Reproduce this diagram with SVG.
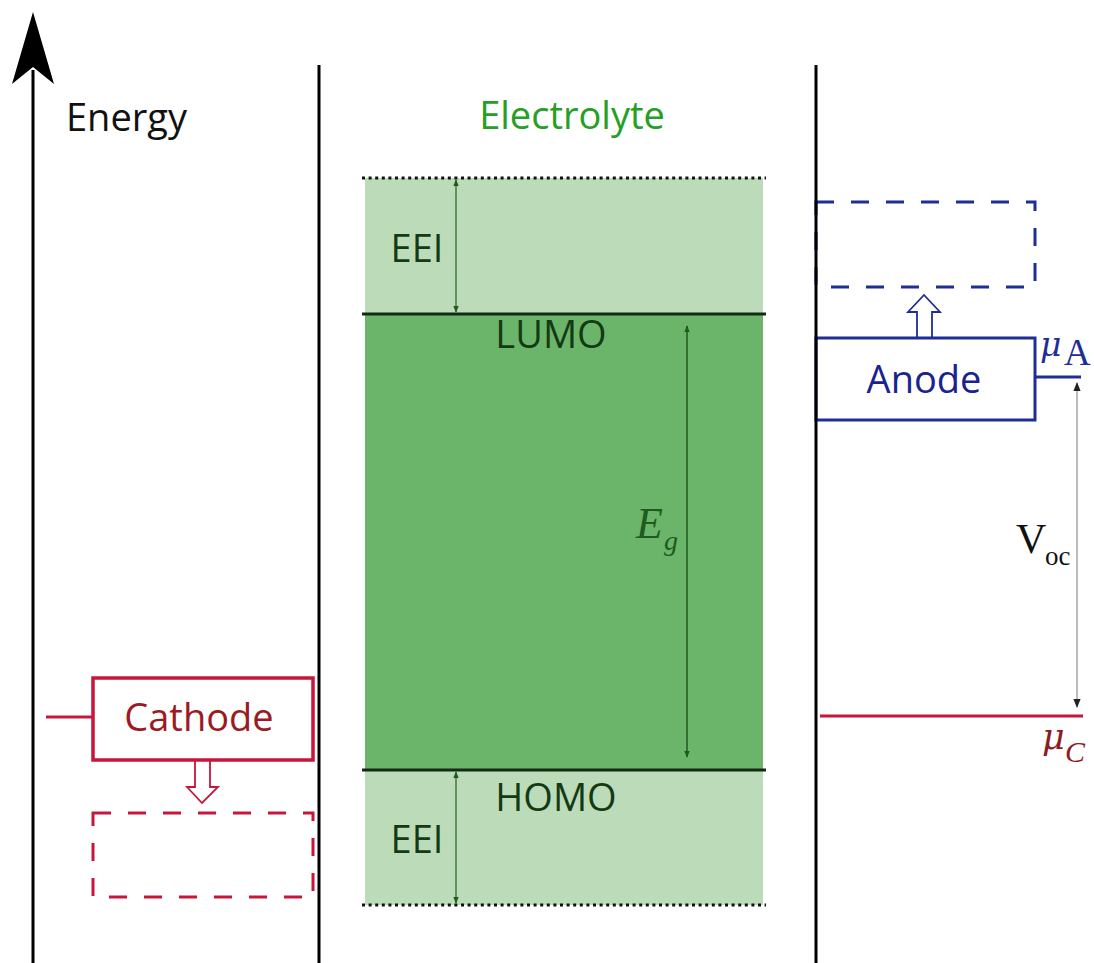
<svg xmlns="http://www.w3.org/2000/svg" width="1094" height="963" viewBox="0 0 1094 963">
<style>
.lbl{font-family:"Open Sans","Liberation Sans",sans-serif;font-size:38px;}
.serif{font-family:"Liberation Serif","DejaVu Serif",serif;}
.mu{font-family:"DejaVu Serif","Liberation Serif",serif;font-style:italic;}
.blue{stroke:#1f2d96;fill:none;}
.red{stroke:#c8163a;fill:none;}
</style>
<defs>
<marker id="ga" viewBox="0 0 10 10" refX="9" refY="5" markerWidth="7" markerHeight="9" orient="auto-start-reverse" markerUnits="userSpaceOnUse"><path d="M0,1 L10,5 L0,9 Z" fill="#1f5a1f"/></marker>
<marker id="ka" viewBox="0 0 10 10" refX="9" refY="5" markerWidth="11" markerHeight="9" orient="auto-start-reverse" markerUnits="userSpaceOnUse"><path d="M0,1 L10,5 L0,9 Z" fill="#222"/></marker>
</defs>
<rect width="1094" height="963" fill="#fff"/>

<g id="electrolyte">
<rect x="365" y="178" width="398" height="136" fill="#bbdbb9"/>
<rect x="365" y="314" width="398" height="456" fill="#6bb56b"/>
<rect x="365" y="770" width="398" height="135" fill="#bbdbb9"/>
<line x1="362" y1="178" x2="766" y2="178" stroke="#111" stroke-width="3" stroke-dasharray="3,3.6"/>
<line x1="362" y1="905" x2="766" y2="905" stroke="#111" stroke-width="3" stroke-dasharray="3,3.6"/>
<line x1="362" y1="314" x2="766" y2="314" stroke="#142a14" stroke-width="3"/>
<line x1="362" y1="770" x2="766" y2="770" stroke="#142a14" stroke-width="3"/>
<text x="572" y="129" class="lbl" fill="#25a025" text-anchor="middle">Electrolyte</text>
<text x="417" y="262" class="lbl" fill="#143a14" text-anchor="middle">EEI</text>
<text x="417" y="853" class="lbl" fill="#143a14" text-anchor="middle">EEI</text>
<text x="551" y="348" class="lbl" fill="#143a14" text-anchor="middle">LUMO</text>
<text x="556" y="811" class="lbl" fill="#143a14" text-anchor="middle">HOMO</text>
<text x="636" y="538" class="serif" font-size="44" font-style="italic" fill="#1f5a1f">E</text>
<text x="664" y="550" class="serif" font-size="28" font-style="italic" fill="#1f5a1f">g</text>
</g>

<g id="anode">
<rect x="816" y="202" width="219" height="85" class="blue" stroke-width="3" stroke-dasharray="18,17"/>
<path d="M917,338 V312 H908 L924,295 L940,312 H932 V338" fill="#fff" class="blue" stroke-width="1.8"/>
<rect x="816" y="338" width="219" height="82" class="blue" stroke-width="3"/>
<text x="924" y="393" class="lbl" fill="#1a2290" text-anchor="middle">Anode</text>
<line x1="1035" y1="377" x2="1081" y2="377" class="blue" stroke-width="3"/>
<text x="1040" y="356" class="mu" font-size="33" fill="#1f2d96">μ</text>
<text x="1064" y="365" class="serif" font-size="37" fill="#1f2d96">A</text>
</g>

<g id="cathode">
<line x1="46" y1="717" x2="93" y2="717" class="red" stroke-width="3"/>
<rect x="93" y="678" width="220" height="82" class="red" stroke-width="3.5"/>
<text x="199" y="731" class="lbl" fill="#9b1b24" text-anchor="middle">Cathode</text>
<path d="M195,760 V787 H187 L202,803 L218,787 H210 V760" fill="#fff" class="red" stroke-width="1.8"/>
<rect x="93" y="813" width="220" height="84" class="red" stroke-width="3" stroke-dasharray="18,17"/>
<line x1="820" y1="716" x2="1083" y2="716" class="red" stroke-width="3"/>
<text x="1042" y="749" class="mu" font-size="35" fill="#8f1a22">μ</text>
<text x="1065" y="762" class="serif" font-size="30" font-style="italic" fill="#8f1a22">C</text>
</g>

<g id="axes">
<line x1="33" y1="70" x2="33" y2="963" stroke="#000" stroke-width="3"/>
<path d="M33,12 L54,84 L33,67 L12,84 Z" fill="#000"/>
<text x="66" y="131" class="lbl" fill="#111">Energy</text>
<line x1="319" y1="65" x2="319" y2="963" stroke="#000" stroke-width="3"/>
<line x1="816" y1="65" x2="816" y2="963" stroke="#000" stroke-width="3"/>
</g>

<g id="connectors">
<line x1="456" y1="180" x2="456" y2="312" stroke="#2e6b2e" stroke-width="1.3" marker-start="url(#ga)" marker-end="url(#ga)"/>
<line x1="456" y1="772" x2="456" y2="903" stroke="#2e6b2e" stroke-width="1.3" marker-start="url(#ga)" marker-end="url(#ga)"/>
<line x1="687" y1="326" x2="687" y2="757" stroke="#1f5a1f" stroke-width="1.5" marker-start="url(#ga)" marker-end="url(#ga)"/>
<line x1="1077" y1="383" x2="1077" y2="707" stroke="#bbb" stroke-width="2" marker-start="url(#ka)" marker-end="url(#ka)"/>
<text x="1016" y="553" class="serif" font-size="42" fill="#111">V</text>
<text x="1045" y="565" class="serif" font-size="27" fill="#111">oc</text>
</g>
</svg>
